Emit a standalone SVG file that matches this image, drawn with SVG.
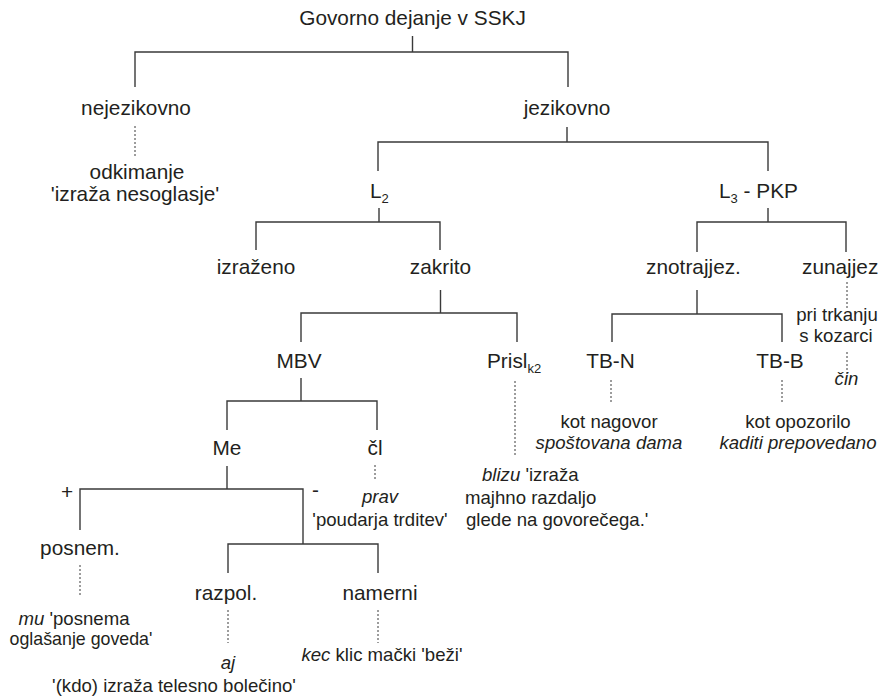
<svg xmlns="http://www.w3.org/2000/svg" width="882" height="697" viewBox="0 0 882 697">
<style>
text{font-family:"Liberation Sans",Arial,sans-serif;fill:#231f20}
.n{font-size:20.8px;text-anchor:middle}
.ns{font-size:20.8px}
.e{font-size:18.6px;text-anchor:middle}
.es{font-size:18.6px}
.i{font-style:italic}
.sub{font-size:13px}
.ln{stroke:#3a3a3a;stroke-width:1.4;fill:none}
.dt{stroke:#3a3a3a;stroke-width:1;fill:none;stroke-dasharray:2 2}
</style>
<rect width="882" height="697" fill="#fff"/>
<g id="connectors">
<path class="ln" d="M412.5 36V52M135 87V52H568V87"/>
<path class="dt" d="M135 126V156"/>
<path class="ln" d="M567 127V142M378 171V142H768V171"/>
<path class="ln" d="M379 208V222M256 250V222H440V250"/>
<path class="ln" d="M768 208V222M697 252V222H846V252"/>
<path class="ln" d="M440.5 290V313M301 342V313H517V342"/>
<path class="ln" d="M697 290V314M612 342V314H782V342"/>
<path class="dt" d="M515 381V456"/>
<path class="dt" d="M611 380V402M782 380V402"/>
<path class="dt" d="M847 282V308M847 352V374"/>
<path class="ln" d="M301 378V401M227 430V401H377V430"/>
<path class="ln" d="M227 466V489M80 530V489H303V544M228 573V544H378V573"/>
<path class="dt" d="M375 465V479"/>
<path class="dt" d="M80 565V597"/>
<path class="dt" d="M228 610V643M378 610V643"/>
</g>
<g id="n-root"><text class="n" x="412.5" y="25">Govorno dejanje v SSKJ</text></g>
<g id="n-nejezikovno"><text class="n" x="136" y="115">nejezikovno</text></g>
<g id="ex-odkimanje"><text class="n" x="137" y="179">odkimanje</text><text class="n" x="135" y="201">'izraža nesoglasje'</text></g>
<g id="n-jezikovno"><text class="n" x="567" y="115">jezikovno</text></g>
<g id="n-L2"><text class="ns" x="370" y="198">L<tspan class="sub" dy="5">2</tspan></text></g>
<g id="n-L3"><text class="ns" x="719" y="198">L<tspan class="sub" dy="5">3</tspan><tspan dy="-5"> - PKP</tspan></text></g>
<g id="n-izrazeno"><text class="n" x="256" y="274">izraženo</text></g>
<g id="n-zakrito"><text class="n" x="440.5" y="274">zakrito</text></g>
<g id="n-znotrajjez"><text class="n" x="693.5" y="274">znotrajjez.</text></g>
<g id="n-zunajjez"><text class="ns" x="802" y="274">zunajjez</text></g>
<g id="ex-trkanje"><text class="e" x="837" y="321">pri trkanju</text><text class="e" x="836" y="342">s kozarci</text><text class="e i" x="846.5" y="385">čin</text></g>
<g id="n-MBV"><text class="n" x="299" y="368">MBV</text></g>
<g id="n-Prisl"><text class="ns" x="487" y="368">Prisl<tspan class="sub" dy="4.5">k2</tspan></text></g>
<g id="n-TBN"><text class="n" x="610.5" y="368">TB-N</text></g>
<g id="n-TBB"><text class="n" x="780" y="368">TB-B</text></g>
<g id="ex-TBN"><text class="e" x="609" y="428">kot nagovor</text><text class="e i" x="609" y="449">spoštovana dama</text></g>
<g id="ex-TBB"><text class="e" x="798" y="428">kot opozorilo</text><text class="e i" x="798" y="449">kaditi prepovedano</text></g>
<g id="ex-blizu"><text class="es" x="482" y="481"><tspan class="i">blizu</tspan> 'izraža</text><text class="es" x="465" y="504">majhno razdaljo</text><text class="es" x="466" y="526">glede na govorečega.'</text></g>
<g id="n-Me"><text class="n" x="227" y="455">Me</text></g>
<g id="n-cl"><text class="n" x="375" y="455">čl</text></g>
<g id="ex-prav"><text class="e i" x="380" y="503">prav</text><text class="e" x="380" y="526">'poudarja trditev'</text></g>
<g id="lbl-plus"><text class="ns" x="61" y="499">+</text></g>
<g id="lbl-minus"><text class="ns" x="312" y="497">-</text></g>
<g id="n-posnem"><text class="n" x="80" y="555">posnem.</text></g>
<g id="ex-posnem"><text class="e" x="74" y="625"><tspan class="i">mu</tspan> 'posnema</text><text class="e" x="81" y="645" style="font-size:17.8px">oglašanje goveda'</text></g>
<g id="n-razpol"><text class="n" x="226" y="600">razpol.</text></g>
<g id="n-namerni"><text class="n" x="380" y="600">namerni</text></g>
<g id="ex-razpol"><text class="e i" x="228" y="669">aj</text><text class="e" x="174" y="692">'(kdo) izraža telesno bolečino'</text></g>
<g id="ex-namerni"><text class="e" x="382" y="661"><tspan class="i">kec</tspan> klic mački 'beži'</text></g>
</svg>
